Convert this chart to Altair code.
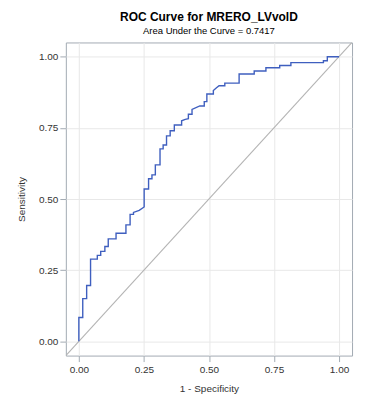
import altair as alt
import pandas as pd

# ROC curve points (1 - specificity, sensitivity)
fpr = [0.0, 0.0, 0.015, 0.015, 0.030, 0.030, 0.045, 0.045, 0.071, 0.071,
       0.084, 0.084, 0.100, 0.100, 0.113, 0.113, 0.143, 0.143, 0.181, 0.181,
       0.197, 0.197, 0.210, 0.210, 0.232, 0.251, 0.251, 0.268, 0.268, 0.281,
       0.281, 0.294, 0.294, 0.312, 0.312, 0.324, 0.324, 0.337, 0.337, 0.351,
       0.351, 0.367, 0.367, 0.395, 0.395, 0.409, 0.421, 0.421, 0.435, 0.435,
       0.465, 0.482, 0.482, 0.492, 0.492, 0.517, 0.517, 0.528, 0.539, 0.561,
       0.561, 0.616, 0.616, 0.674, 0.674, 0.719, 0.719, 0.772, 0.772, 0.815,
       0.815, 0.940, 0.940, 0.955, 0.955, 1.0]
tpr = [0.0, 0.084, 0.084, 0.150, 0.150, 0.196, 0.196, 0.289, 0.289, 0.302,
       0.302, 0.316, 0.316, 0.333, 0.333, 0.360, 0.360, 0.380, 0.380, 0.409,
       0.409, 0.446, 0.446, 0.453, 0.460, 0.472, 0.535, 0.535, 0.571, 0.571,
       0.585, 0.585, 0.620, 0.620, 0.676, 0.676, 0.690, 0.690, 0.722, 0.722,
       0.740, 0.740, 0.760, 0.760, 0.775, 0.780, 0.782, 0.798, 0.798, 0.815,
       0.827, 0.827, 0.842, 0.842, 0.869, 0.869, 0.881, 0.890, 0.898, 0.898,
       0.907, 0.907, 0.939, 0.939, 0.950, 0.950, 0.961, 0.961, 0.969, 0.969,
       0.979, 0.979, 0.986, 0.986, 1.0, 1.0]

# chance diagonal across the whole plot range
diag = [-0.05, 1.05]

ticks = [0.0, 0.25, 0.5, 0.75, 1.0]

roc = pd.DataFrame({"fpr": fpr, "tpr": tpr, "order": list(range(len(fpr)))})
ref = pd.DataFrame({"x": diag, "y": diag})

xs = alt.Scale(domain=[-0.05, 1.05], nice=False, zero=False)
ys = alt.Scale(domain=[-0.05, 1.05], nice=False, zero=False)

xaxis = alt.Axis(values=ticks, format=".2f", title="1 - Specificity",
                 titlePadding=9, labelPadding=3)
yaxis = alt.Axis(values=ticks, format=".2f", title="Sensitivity",
                 titlePadding=12, labelPadding=2)

diag_line = alt.Chart(ref).mark_line(color="#b4b4b4", strokeWidth=1.1, clip=True).encode(
    x=alt.X("x:Q", scale=xs, axis=xaxis),
    y=alt.Y("y:Q", scale=ys, axis=yaxis),
)

curve = alt.Chart(roc).mark_line(color="#3f5fbf", strokeWidth=1.4, clip=True).encode(
    x=alt.X("fpr:Q", scale=xs, axis=xaxis),
    y=alt.Y("tpr:Q", scale=ys, axis=yaxis),
    order="order:Q",
)

chart = alt.layer(diag_line, curve).properties(
    width=287,
    height=314,
    background="white",
    autosize=alt.AutoSizeParams(type="none"),
    padding={"left": 58, "top": 34, "right": 12, "bottom": 50},
    title=alt.TitleParams(
        text="ROC Curve for MRERO_LVvolD",
        subtitle="Area Under the Curve = 0.7417",
        font="Liberation Sans",
        fontSize=12,
        fontWeight="bold",
        color="#000000",
        subtitleFont="Liberation Sans",
        subtitleFontSize=9.5,
        subtitleColor="#000000",
        subtitlePadding=2,
        anchor="middle",
        offset=6,
    ),
).configure_view(
    stroke="#a3abb3", strokeWidth=1
).configure_axis(
    domain=False,
    grid=True,
    gridColor="#e8e8e8",
    gridWidth=1,
    tickColor="#a3abb3",
    tickSize=6,
    labelFont="Liberation Sans",
    labelFontSize=10,
    labelColor="#333333",
    titleFont="Liberation Sans",
    titleFontSize=10,
    titleFontWeight="normal",
    titleColor="#333333",
)

chart.save("out.html", embed_options={"renderer": "svg", "actions": False})
